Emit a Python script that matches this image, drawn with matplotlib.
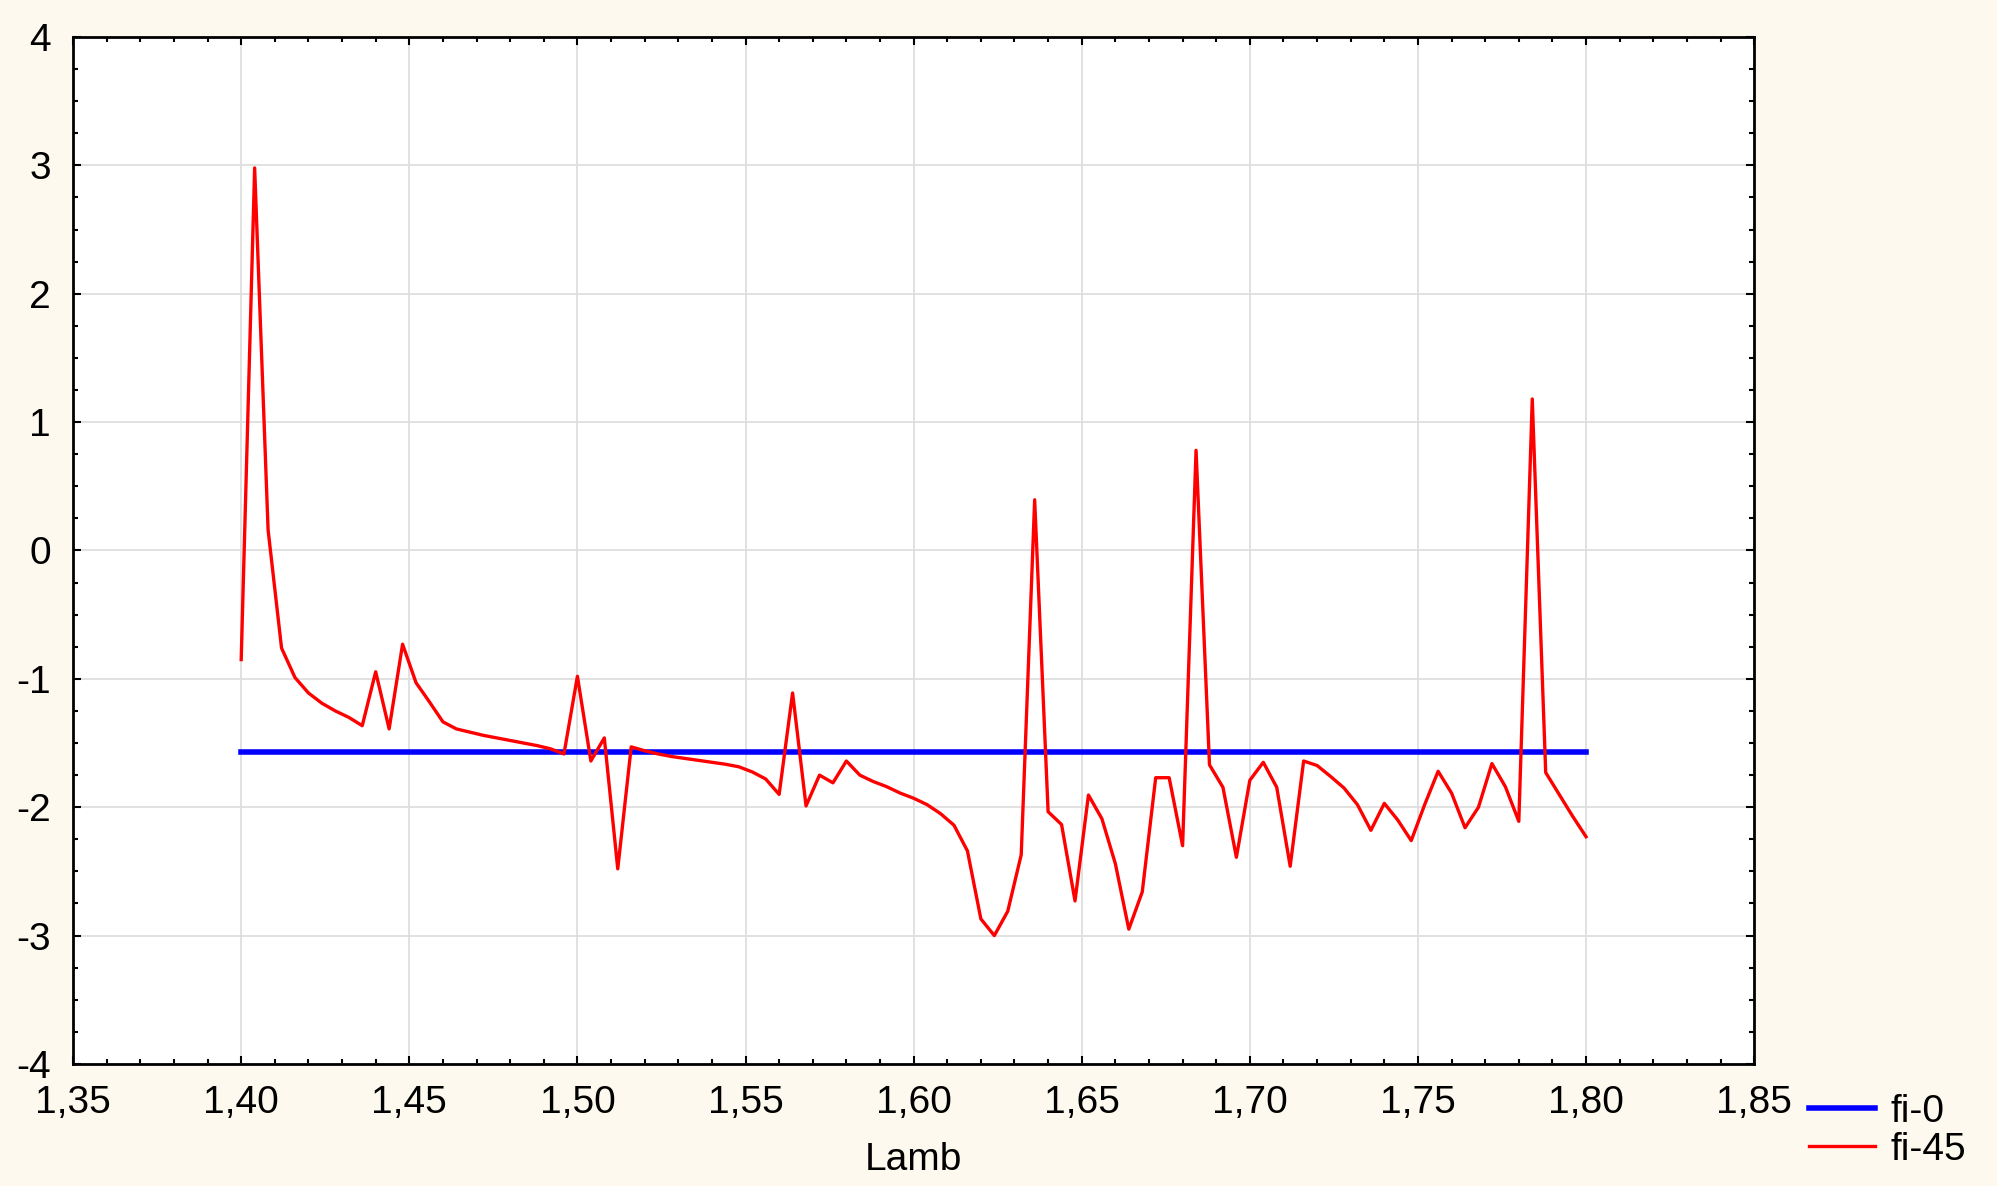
import numpy as np
import matplotlib
matplotlib.use("Agg")
import matplotlib.pyplot as plt
from matplotlib.ticker import MultipleLocator, FuncFormatter

# wavelength grid, step 0,004
lamb = np.round(1.40 + 0.004 * np.arange(101), 3)

# fi-0 is flat
fi_0 = [-1.57] * len(lamb)

# fi-45
fi_45 = [
    -0.85, 2.98, 0.16, -0.76, -0.99, -1.11, -1.19, -1.25, -1.30, -1.365,
    -0.945, -1.39, -0.73, -1.03, -1.18, -1.335, -1.39, -1.415, -1.44, -1.46,
    -1.48, -1.50, -1.52, -1.545, -1.585, -0.98, -1.64, -1.46, -2.48, -1.53,
    -1.56, -1.585, -1.605, -1.62, -1.635, -1.65, -1.665, -1.685, -1.725, -1.78,
    -1.90, -1.11, -1.99, -1.75, -1.81, -1.64, -1.75, -1.80, -1.84, -1.89,
    -1.93, -1.98, -2.05, -2.14, -2.34, -2.87, -3.00, -2.81, -2.37, 0.395,
    -2.035, -2.135, -2.73, -1.905, -2.09, -2.44, -2.95, -2.66, -1.77, -1.77,
    -2.30, 0.78, -1.67, -1.845, -2.39, -1.79, -1.65, -1.845, -2.46, -1.64,
    -1.675, -1.76, -1.85, -1.98, -2.18, -1.97, -2.10, -2.26, -1.98, -1.72,
    -1.89, -2.16, -2.00, -1.66, -1.84, -2.11, 1.18, -1.73, -1.90, -2.07,
    -2.23,
]

FS = 28
plt.rcParams["font.family"] = ["Liberation Sans", "DejaVu Sans"]
plt.rcParams["font.size"] = FS

fig = plt.figure(figsize=(19.97, 11.86), dpi=100, facecolor="#fdf9ee")
ax = fig.add_axes([0.0366, 0.1029, 0.8418, 0.8659])
ax.set_facecolor("white")

ax.plot(lamb, fi_0, color="#0000ff", lw=4.0, label="fi-0", zorder=3)
ax.plot(lamb, fi_45, color="#ff0000", lw=2.4, label="fi-45", zorder=4)

ax.set_xlim(1.35, 1.85)
ax.set_ylim(-4, 4)
ax.xaxis.set_major_locator(MultipleLocator(0.05))
ax.xaxis.set_minor_locator(MultipleLocator(0.01))
ax.yaxis.set_major_locator(MultipleLocator(1))
ax.yaxis.set_minor_locator(MultipleLocator(0.25))
ax.xaxis.set_major_formatter(FuncFormatter(lambda v, p: f"{v:.2f}".replace(".", ",")))
ax.yaxis.set_major_formatter(FuncFormatter(lambda v, p: f"{v:.0f}"))

ax.tick_params(which="both", direction="in", top=True, right=True, width=1.5, colors="black")
ax.tick_params(axis="x", which="major", length=6, pad=15, labelsize=FS)
ax.tick_params(axis="y", which="major", length=6, pad=16, labelsize=FS)
ax.tick_params(which="minor", length=3.5)
for s in ax.spines.values():
    s.set_linewidth(2)

ax.grid(True, which="major", color="#dedede", lw=1.3, zorder=0)
ax.set_axisbelow(True)

ax.set_xlabel("Lamb", fontsize=FS, labelpad=15.5)

fig.legend(loc="upper left", bbox_to_anchor=(0.906, 0.0776), frameon=False,
           handlelength=1.7, handletextpad=0.4, labelspacing=0.05,
           borderpad=0, borderaxespad=0, fontsize=FS)

fig.savefig("out.png", dpi=100, facecolor=fig.get_facecolor())
